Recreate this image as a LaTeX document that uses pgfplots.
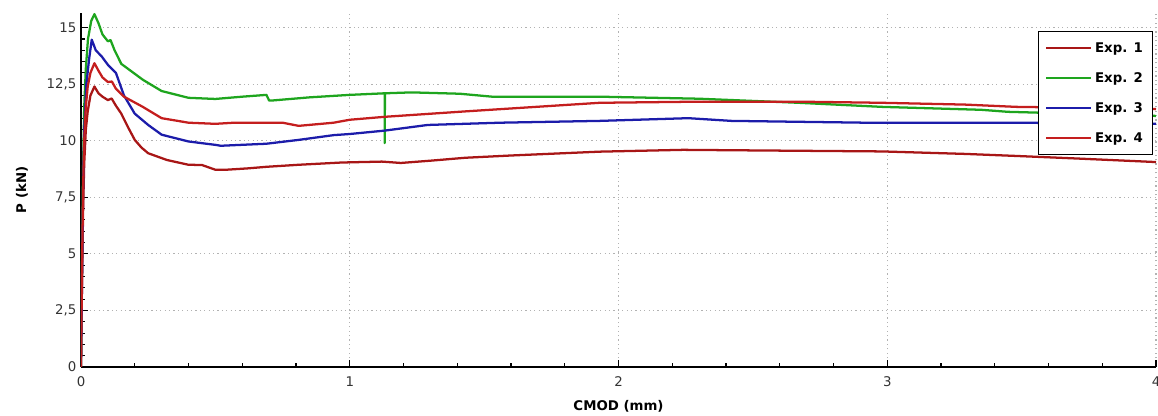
\documentclass[border=0pt]{standalone}
\usepackage{fontspec}
\setmainfont{DejaVu Sans}
\usepackage{pgfplots}
\pgfplotsset{compat=1.18}
\definecolor{cA}{RGB}{168,22,22}
\definecolor{cB}{RGB}{30,165,30}
\definecolor{cC}{RGB}{28,28,170}
\definecolor{cD}{RGB}{196,30,30}
\begin{document}
\begin{tikzpicture}
\begin{axis}[
  scale only axis,
  width=806.25pt, height=265.5pt,
  at={(0,0)}, anchor=south west,
  xmin=0, xmax=4, ymin=0, ymax=15.65,
  axis lines=left,
  axis line style={-, line width=1.1pt, black},
  xtick={0,1,2,3,4},
  ytick={0,2.5,5,7.5,10,12.5,15},
  minor x tick num=4,
  minor y tick num=4,
  tick align=inside,
  major tick length=5pt,
  minor tick length=3pt,
  tick style={black, line width=0.8pt},
  grid=major,
  major grid style={dash pattern=on 0.9pt off 2.4pt, gray!60, line width=0.9pt},
  /pgf/number format/assume math mode=true,
  /pgf/number format/use comma,
  /pgf/number format/1000 sep={},
  ticklabel style={font=\fontsize{10}{12}\selectfont, text=black!80},
  xticklabel style={yshift=-4pt},
  xlabel={CMOD (mm)},
  ylabel={P (kN)},
  label style={font=\fontsize{10}{12}\selectfont\bfseries},
  xlabel style={at={(axis description cs:0.5,-0.11)}, anchor=center},
  ylabel style={at={(axis description cs:-0.0549,0.5)}, anchor=center, rotate=0},
  legend style={at={(0.997,0.949)}, anchor=north east, draw=black, line width=0.8pt,
    fill=white, font=\fontsize{10}{12}\selectfont\bfseries,
    row sep=9.5pt, inner xsep=5pt, inner ysep=6pt,
    nodes={text height=7.5pt, text depth=1.5pt, inner sep=2pt}},
  legend cell align=left,
  legend image code/.code={\draw[#1, line width=1.6pt] (0pt,0pt) -- (34pt,0pt);},
  every axis plot/.append style={line width=1.7pt, line join=round},
]
\addplot[cA] coordinates {
(0,0) (0.004,4) (0.008,7) (0.012,9) (0.018,10.5) (0.025,11.3) (0.035,12.0) (0.05,12.4)
(0.065,12.1) (0.08,11.95) (0.10,11.8) (0.114,11.87) (0.13,11.55) (0.15,11.2) (0.175,10.6)
(0.20,10.04) (0.225,9.7) (0.25,9.45) (0.32,9.15) (0.40,8.94) (0.45,8.93) (0.50,8.72)
(0.54,8.72) (0.62,8.78) (0.69,8.85) (0.81,8.94) (0.97,9.04) (1.12,9.08) (1.19,9.02)
(1.30,9.12) (1.43,9.25) (1.6,9.35) (1.93,9.52) (2.24,9.6) (2.55,9.57) (2.98,9.53)
(3.29,9.42) (3.48,9.33) (3.7,9.22) (4.0,9.06)
};
\addlegendentry{Exp. 1}
\addplot[cB] coordinates {
(0,0) (0.004,5) (0.008,9) (0.012,11.5) (0.018,13.2) (0.026,14.5) (0.038,15.3) (0.05,15.6)
(0.065,15.2) (0.08,14.7) (0.10,14.4) (0.11,14.45) (0.125,14.0) (0.15,13.4) (0.23,12.7)
(0.30,12.2) (0.40,11.9) (0.5,11.85) (0.6,11.95) (0.69,12.03) (0.70,11.78) (0.71,11.78)
(0.85,11.92) (1.0,12.03) (1.13,12.1) (1.13,9.9) (1.131,12.1) (1.23,12.14) (1.41,12.08)
(1.53,11.95) (1.93,11.95) (2.3,11.86) (2.67,11.68) (2.98,11.5) (3.35,11.37) (3.45,11.28)
(3.7,11.2) (4.0,11.1)
};
\addlegendentry{Exp. 2}
\addplot[cC] coordinates {
(0,0) (0.004,4) (0.008,8) (0.012,10.5) (0.02,12.5) (0.03,13.6) (0.04,14.47) (0.055,14.0)
(0.077,13.73) (0.10,13.36) (0.13,13.0) (0.16,12.0) (0.20,11.2) (0.25,10.7) (0.30,10.27)
(0.40,9.97) (0.5,9.82) (0.52,9.78) (0.69,9.87) (0.81,10.04) (0.94,10.25) (1.0,10.3)
(1.13,10.45) (1.29,10.7) (1.56,10.8) (1.93,10.88) (2.26,11.0) (2.42,10.88) (2.92,10.8)
(3.48,10.8) (4.0,10.75)
};
\addlegendentry{Exp. 3}
\addplot[cD] coordinates {
(0,0) (0.004,4.5) (0.008,8) (0.012,10) (0.018,11.5) (0.025,12.4) (0.035,13.0) (0.05,13.43)
(0.065,13.1) (0.08,12.8) (0.10,12.6) (0.115,12.62) (0.13,12.3) (0.16,11.95) (0.23,11.5)
(0.30,11.0) (0.40,10.8) (0.50,10.75) (0.57,10.8) (0.75,10.8) (0.81,10.66) (0.94,10.8)
(1.0,10.93) (1.13,11.06) (1.43,11.3) (1.93,11.68) (2.3,11.73) (2.67,11.73) (2.98,11.68)
(3.29,11.6) (3.48,11.5) (3.8,11.45) (4.0,11.4)
};
\addlegendentry{Exp. 4}
\end{axis}
\pgfresetboundingbox
\path (-60.75pt,-36.75pt) rectangle (807.75pt,275.25pt);
\end{tikzpicture}
\end{document}
